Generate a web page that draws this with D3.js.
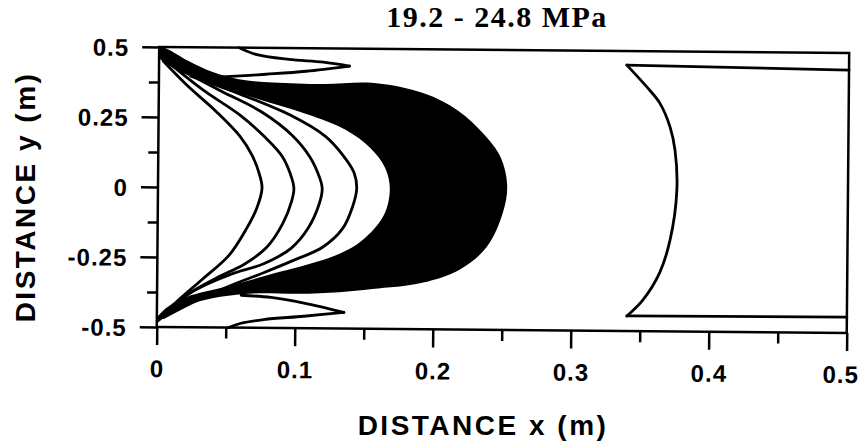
<!DOCTYPE html>
<html lang="en">
<head>
<meta charset="utf-8">
<title>19.2 - 24.8 MPa</title>
<script src="https://cdn.jsdelivr.net/npm/d3@7"></script>
<style>
  body { margin: 0; background: #fff; }
  .axis text { font-family: "Liberation Sans", Arial, sans-serif; font-weight: bold; font-size: 24px; letter-spacing: 1px; fill: #000; }
  .axis line { stroke: #000; stroke-width: 2.5px; }
  .axis path { display: none; }
  .contour { fill: none; stroke: #000; stroke-width: 2.8px; stroke-linejoin: round; stroke-linecap: round; }
  .label { font-family: "Liberation Sans", Arial, sans-serif; font-weight: bold; font-size: 28px; letter-spacing: 2.5px; }
</style>
</head>
<body>
<svg width="862" height="446"></svg>
<script>
// ticks
var xTicks = [0, 0.1, 0.2, 0.3, 0.4, 0.5];
var xMinor = [0.05, 0.15, 0.25, 0.35, 0.45];
var yTicks = [-0.5, -0.25, 0, 0.25, 0.5];
var yMinor = [-0.375, -0.125, 0.125, 0.375];

// contour lines (x, y in m)
var contour1 = [[0.003,0.45],[0.020,0.366],[0.042,0.27],[0.059,0.184],[0.068,0.116],[0.073,0.055],[0.0754,0],
  [0.0717,-0.073],[0.0645,-0.145],[0.052,-0.241],[0.033,-0.327],[0.0167,-0.398],[0.003,-0.466]];
var contour2 = [[0.008,0.44],[0.032,0.348],[0.059,0.259],[0.0775,0.18],[0.09,0.112],[0.097,0.034],[0.0985,0],
  [0.097,-0.045],[0.0906,-0.127],[0.079,-0.213],[0.063,-0.273],[0.043,-0.323],[0.023,-0.38],[0.007,-0.445]];
var contour3 = [[0.0116,0.43],[0.045,0.345],[0.075,0.27],[0.097,0.188],[0.110,0.111],[0.117,0.039],[0.119,0],
  [0.117,-0.054],[0.109,-0.143],[0.097,-0.214],[0.0775,-0.27],[0.0536,-0.309],[0.028,-0.366],[0.012,-0.42]];
var contour4 = [[0.023,0.397],[0.058,0.336],[0.0957,0.26],[0.121,0.186],[0.134,0.118],[0.142,0.057],[0.144,0],
  [0.141,-0.066],[0.134,-0.143],[0.1196,-0.21],[0.099,-0.257],[0.0775,-0.302],[0.052,-0.352],[0.027,-0.409],[0.005,-0.466]];
var lobeTopUpper = [[0.058,0.5],[0.070,0.477],[0.094,0.46],[0.119,0.451],[0.138,0.438]];
var lobeTopLower = [[0.138,0.438],[0.1065,0.418],[0.0775,0.406],[0.046,0.395],[0.029,0.39]];
var lobeBotUpper = [[0.061,-0.384],[0.0826,-0.391],[0.1065,-0.41],[0.1355,-0.442]];
var lobeBotLower = [[0.1355,-0.442],[0.1065,-0.457],[0.0775,-0.47],[0.061,-0.484],[0.052,-0.5]];
var rightTop = [[0.5,0.439],[0.339,0.45]];
var rightCurve = [[0.339,0.45],[0.3536,0.3725],[0.363,0.316],[0.3707,0.23],[0.3744,0.148],
  [0.376,0.005],[0.3714,-0.173],[0.364,-0.291],[0.352,-0.389],[0.3406,-0.446]];
var rightBottom = [[0.3406,-0.446],[0.5,-0.443]];

// filled band: outer edge then inner edge
var bandOuter = [[0,0.5],[0.005,0.495],[0.0217,0.45],[0.039,0.412],[0.058,0.387],[0.0826,0.377],[0.119,0.373],
  [0.156,0.378],[0.192,0.343],[0.217,0.282],[0.2355,0.2],[0.248,0.118],[0.253,0.018],[0.250,-0.082],
  [0.2384,-0.205],[0.219,-0.286],[0.192,-0.334],[0.156,-0.358],[0.132,-0.37],[0.103,-0.377],[0.070,-0.377],
  [0.046,-0.39],[0.027,-0.413],[0.0123,-0.445],[0,-0.49],[0,-0.5]];
var bandInner = [[0,-0.465],[0.0072,-0.43],[0.0217,-0.391],[0.046,-0.359],[0.067,-0.33],[0.088,-0.3],[0.11,-0.27],
  [0.132,-0.233],[0.1486,-0.183],[0.1638,-0.094],[0.168,0],[0.1645,0.075],[0.1536,0.146],[0.1355,0.21],
  [0.1065,0.266],[0.070,0.32],[0.029,0.384],[0.0087,0.43],[0,0.46]];

var svg = d3.select("svg");

var x = d3.scaleLinear().domain([0, 0.5]).range([158, 848]);
var y = d3.scaleLinear().domain([-0.5, 0.5]).range([330, 50]);

// the scan is tilted a little
var plot = svg.append("g").attr("transform", "rotate(0.5, 502, 187)");

var line = d3.line()
  .x(function(d) { return x(d[0]); })
  .y(function(d) { return y(d[1]); })
  .curve(d3.curveCatmullRom.alpha(0.5));

plot.append("path")
  .attr("d", line(bandOuter) + line(bandInner).replace("M", "L") + "Z")
  .attr("fill", "#000");

[contour1, contour2, contour3, contour4, lobeTopUpper, lobeTopLower, lobeBotUpper, lobeBotLower,
 rightTop, rightCurve, rightBottom].forEach(function(c) {
  plot.append("path").attr("class", "contour").attr("d", line(c));
});

// frame
plot.append("rect")
  .attr("x", x(0)).attr("y", y(0.5))
  .attr("width", x(0.5) - x(0)).attr("height", y(-0.5) - y(0.5))
  .attr("fill", "none").attr("stroke", "#000").attr("stroke-width", 2.5);

var fmt = function(d) { return String(d); };

var gx = plot.append("g").attr("class", "axis").attr("transform", "translate(0," + y(-0.5) + ")")
  .call(d3.axisBottom(x).tickValues(xTicks).tickSize(18).tickFormat(fmt));
gx.selectAll("text").attr("y", 50).attr("dy", 0)
  .filter(function(d) { return d === 0.5; }).attr("text-anchor", "end").attr("x", 12);
plot.append("g").attr("class", "axis").attr("transform", "translate(0," + y(-0.5) + ")")
  .call(d3.axisBottom(x).tickValues(xMinor).tickSize(11).tickFormat(""));

var gy = plot.append("g").attr("class", "axis").attr("transform", "translate(" + x(0) + ",0)")
  .call(d3.axisLeft(y).tickValues(yTicks).tickSize(17).tickFormat(fmt));
gy.selectAll("text").attr("x", -30).attr("dy", "0.36em");
plot.append("g").attr("class", "axis").attr("transform", "translate(" + x(0) + ",0)")
  .call(d3.axisLeft(y).tickValues(yMinor).tickSize(10).tickFormat(""));

// titles
svg.append("text")
  .attr("x", 497).attr("y", 27)
  .attr("text-anchor", "middle")
  .style("font-family", "'Liberation Serif', 'Times New Roman', serif")
  .style("font-weight", "bold").style("font-size", "30px").style("letter-spacing", "1.5px")
  .text("19.2 - 24.8 MPa");

svg.append("text").attr("class", "label")
  .attr("x", 483).attr("y", 435)
  .attr("text-anchor", "middle")
  .text("DISTANCE x (m)");

svg.append("text").attr("class", "label")
  .attr("transform", "translate(35,197) rotate(-90)")
  .attr("text-anchor", "middle")
  .text("DISTANCE y (m)");
</script>
</body>
</html>
